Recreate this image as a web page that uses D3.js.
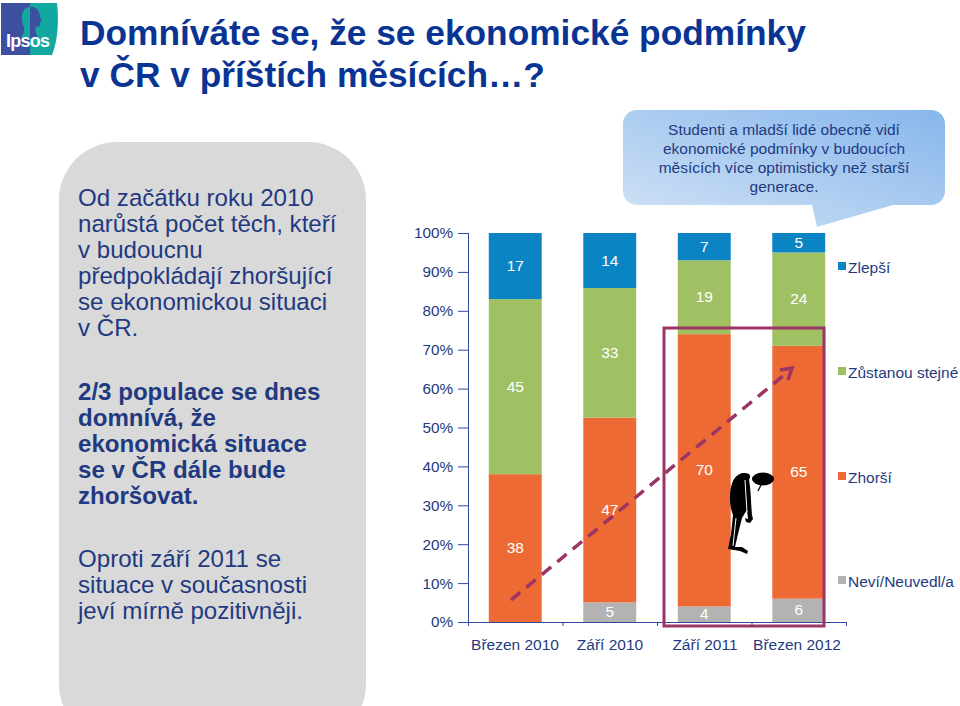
<!DOCTYPE html>
<html lang="cs"><head><meta charset="utf-8">
<style>html,body{margin:0;padding:0;background:#fff}svg{display:block;font-family:"Liberation Sans",Arial,sans-serif}</style>
<script src="https://cdn.jsdelivr.net/npm/d3@7"></script></head><body>
<svg id="c" width="960" height="706"></svg>
<script>
const categories = ["Březen 2010","Září 2010","Září 2011","Březen 2012"];
const seriesNames = ["Neví/Neuvedl/a","Zhorší","Zůstanou stejné","Zlepší"];
const nevi = [0,5,4,6];
const zhorsi = [38,47,70,65];
const stejne = [45,33,19,24];
const zlepsi = [17,14,7,5];
const yTicks = [0,.1,.2,.3,.4,.5,.6,.7,.8,.9,1];
const seriesColors = ["#b3b3b3","#ee6a35","#a0c163","#0b84c4"];
const seriesValues = [nevi,zhorsi,stejne,zlepsi];
const titleLines = ["Domníváte se, že se ekonomické podmínky","v ČR v příštích měsících…?"];
const introLines = ["Od začátku roku 2010","narůstá počet těch, kteří","v budoucnu","předpokládají zhoršující","se ekonomickou situaci","v ČR."];
const boldLines = ["2/3 populace se dnes","domnívá, že","ekonomická situace","se v ČR dále bude","zhoršovat."];
const outroLines = ["Oproti září 2011 se","situace v současnosti","jeví mírně pozitivněji."];
const calloutLines = ["Studenti a mladší lidé obecně vidí","ekonomické podmínky v budoucích","měsících více optimisticky než starší","generace."];
const legendY = [268,373,478,582];
const legendOrder = [3,2,1,0];

const svg = d3.select("#c");
const defs = svg.append("defs");
const g1 = defs.append("linearGradient").attr("id","cg").attr("x1","0").attr("y1","1").attr("x2","1").attr("y2","0");
g1.append("stop").attr("offset","0").attr("stop-color","#d3e3f5");
g1.append("stop").attr("offset","1").attr("stop-color","#86b6ec");
defs.append("clipPath").attr("id","lc").append("rect").attr("x",0).attr("y",0).attr("width",30).attr("height",60);
defs.append("clipPath").attr("id","rc").append("rect").attr("x",30).attr("y",0).attr("width",30).attr("height",60);
const ink = "#1f3a80";

// logo
const logo = svg.append("g");
const headPath = "M22 16C22 9 28 6 33 7C38 8 40 13 40 17L42 21L40 22L40 26L36 27L35 31L38 38H21C24 33 25 30 24 27C22 24 22 20 22 16Z";
logo.append("path").attr("d","M1 3H30V55H1Z").attr("fill","#3d4f9f");
logo.append("path").attr("d","M30 3H57C59 20 58 40 52 55H30Z").attr("fill","#12a8a0");
logo.append("path").attr("d",headPath).attr("fill","#12a8a0").attr("clip-path","url(#lc)");
logo.append("path").attr("d",headPath).attr("fill","#3d4f9f").attr("clip-path","url(#rc)");
logo.append("text").attr("x",6).attr("y",47).attr("fill","#fff").attr("font-size",18).attr("font-weight",700).attr("textLength",44).text("Ipsos");

// title
svg.append("g").selectAll("text").data(titleLines).join("text")
  .attr("x",80).attr("y",(d,i)=>45+i*42).attr("font-size",35.3).attr("font-weight",700).attr("fill","#0a3494").text(d=>d);

// left panel
svg.append("rect").attr("x",59).attr("y",142).attr("width",307).attr("height",600).attr("rx",58).attr("fill","#d9d9d9");
function block(lines,y0,lh,bold){
  svg.append("g").selectAll("text").data(lines).join("text")
    .attr("x",78).attr("y",(d,i)=>y0+i*lh).attr("font-size",24.1).attr("font-weight",bold?700:400).attr("fill",ink).text(d=>d);
}
block(introLines,206,26,false);
block(boldLines,400,26,true);
block(outroLines,567,26,false);

// callout
svg.append("path").attr("d","M637 110H931A14 14 0 0 1 945 124V191A14 14 0 0 1 931 205H893L817 227L812 205H637A14 14 0 0 1 623 191V124A14 14 0 0 1 637 110Z").attr("fill","url(#cg)");
svg.append("g").selectAll("text").data(calloutLines).join("text")
  .attr("x",784).attr("y",(d,i)=>135+i*19).attr("text-anchor","middle").attr("font-size",15.5).attr("fill",ink).text(d=>d);

// chart
const x = d3.scaleBand().domain(categories).range([468,846]).paddingInner(.44).paddingOuter(.22);
const y = d3.scaleLinear().domain([0,1]).range([622,233]);
const rows = categories.map((c,i)=>{const r={cat:c};seriesNames.forEach((s,j)=>r[s]=seriesValues[j][i]);return r;});
const stacked = d3.stack().keys(seriesNames).offset(d3.stackOffsetExpand)(rows);

const gs = svg.append("g").selectAll("g").data(stacked).join("g").attr("fill",(d,i)=>seriesColors[i]);
gs.selectAll("rect").data(d=>d).join("rect")
  .attr("x",d=>x(d.data.cat)).attr("width",x.bandwidth())
  .attr("y",d=>y(d[1])).attr("height",d=>y(d[0])-y(d[1]));

const yAxis = svg.append("g").attr("transform","translate(468,0)")
  .call(d3.axisLeft(y).tickValues(yTicks).tickFormat(d3.format(".0%")).tickSize(10).tickPadding(5));
yAxis.selectAll("text").attr("font-size",15.3).attr("font-family","inherit").attr("fill",ink);
yAxis.selectAll("line,path").attr("stroke","#2d4a9e").attr("stroke-width",1);
yAxis.select("path").attr("d","M0.5,233V622");

const xAxis = svg.append("g").attr("transform","translate(0,622)")
  .call(d3.axisBottom(d3.scalePoint().domain(d3.range(5)).range([468,846])).tickSize(4).tickFormat(""));
xAxis.selectAll("line,path").attr("stroke","#2d4a9e").attr("stroke-width",1);
const labelX = [515,610,705,797];
svg.append("g").selectAll("text").data(categories).join("text")
  .attr("x",(d,i)=>labelX[i]).attr("y",650).attr("text-anchor","middle").attr("font-size",15.5).attr("fill",ink).text(d=>d);

// value labels
const labelled = stacked.flatMap((s,j)=>s.map((d,i)=>({v:seriesValues[j][i],j,i,d})).filter(e=>e.v>0));
svg.append("g").selectAll("text").data(labelled).join("text")
  .attr("x",e=>x(e.d.data.cat)+x.bandwidth()/2)
  .attr("y",e=>(y(e.d[0])+y(e.d[1]))/2+5)
  .attr("text-anchor","middle").attr("font-size",15.5).attr("fill","#fff").text(e=>e.v);

// highlight rectangle and trend arrow
svg.append("rect").attr("x",664).attr("y",328).attr("width",160).attr("height",298).attr("fill","none").attr("stroke","#9a3566").attr("stroke-width",3);
svg.append("line").attr("x1",511).attr("y1",600).attr("x2",789).attr("y2",371).attr("stroke","#9a3566").attr("stroke-width",3.5).attr("stroke-dasharray","12 8");
svg.append("path").attr("d","M780 370L792 368L788 380").attr("fill","none").attr("stroke","#9a3566").attr("stroke-width",3.5);

// figure
const fig = svg.append("g");
fig.append("path").attr("fill","#000").attr("d","M730 498C730 480 737 473 744 473C749 473 752 475 749 480C751 490 751 505 752 515L753 519L750 523L746 522L745 518L748 519L747 510L745 513L742 518L738 534L735 547L742 547L748 551L747 554L740 551L728 549L731 534L733 515C731 510 730 505 730 498Z");
fig.append("ellipse").attr("fill","#000").attr("cx",763).attr("cy",479).attr("rx",11).attr("ry",6.5);
fig.append("path").attr("fill","none").attr("stroke","#000").attr("stroke-width",1.2).attr("d","M761 485L758 491");
fig.append("path").attr("fill","none").attr("stroke","#fff").attr("stroke-width",1).attr("d","M736 518L733 546M745 480L747 512");

// legend
const leg = svg.append("g").selectAll("g").data(legendOrder).join("g");
leg.append("rect").attr("x",838).attr("y",(d,i)=>legendY[i]-6).attr("width",8).attr("height",8).attr("fill",d=>seriesColors[d]);
leg.append("text").attr("x",848).attr("y",(d,i)=>legendY[i]+5).attr("font-size",15.5).attr("fill",ink).text(d=>seriesNames[d]);
</script></body></html>
